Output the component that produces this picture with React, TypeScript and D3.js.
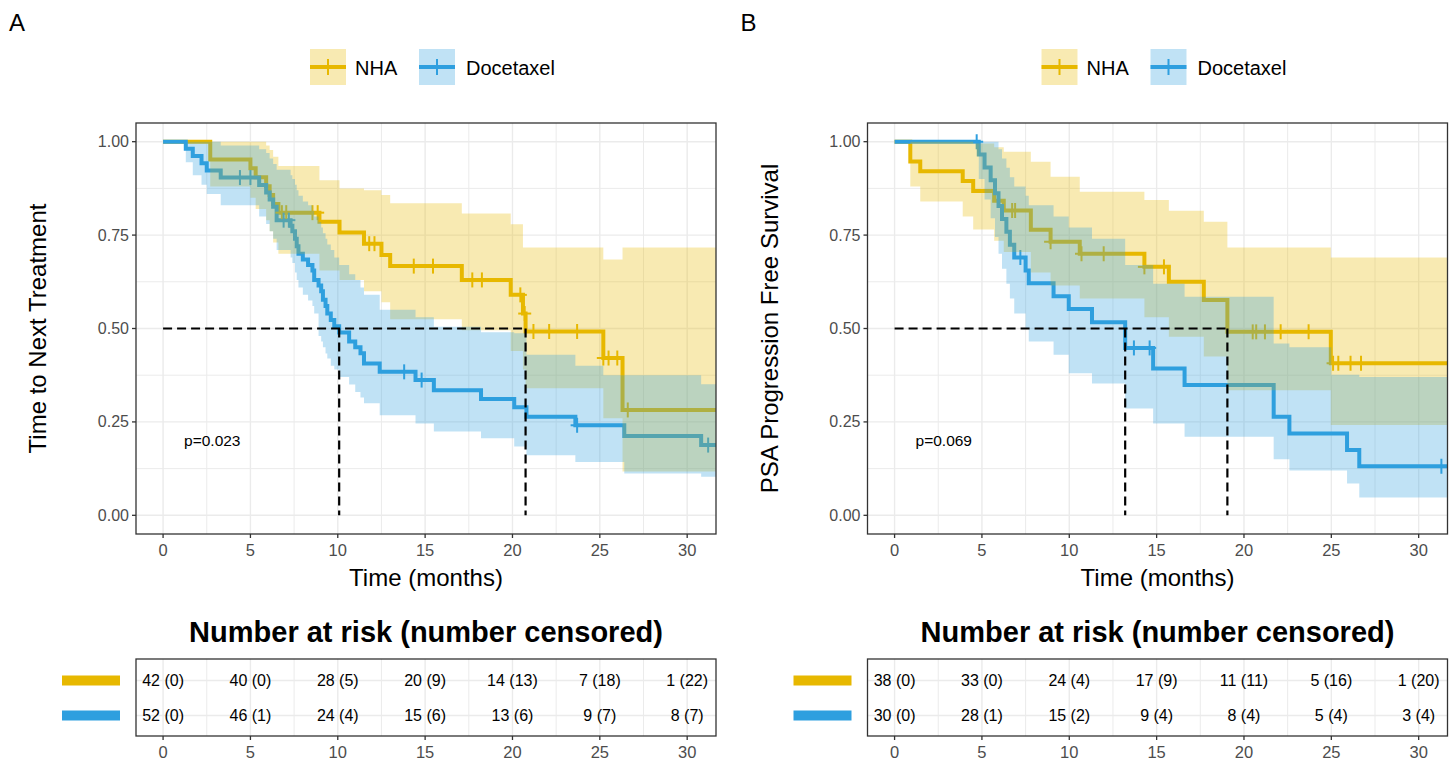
import React from 'react'
import * as d3 from 'd3'

const groups = ['NHA', 'Docetaxel']
const groupColors = ['#E7B800', '#2E9FDF']
const xTicks = [0, 5, 10, 15, 20, 25, 30]
const yTicks = [0, 0.25, 0.5, 0.75, 1]
const riskTimes = [0, 5, 10, 15, 20, 25, 30]

// Panel A, NHA
const aNhaTime = [0, 2.7, 5.0, 5.3, 5.9, 6.1, 6.3, 6.6, 8.95, 10.1, 11.5, 12.5, 13.0, 17.1, 19.9, 20.6, 20.75, 25.2, 26.3]
const aNhaSurv = [1, 0.952, 0.929, 0.905, 0.881, 0.857, 0.833, 0.81, 0.786, 0.757, 0.727, 0.697, 0.667, 0.63, 0.59, 0.54, 0.492, 0.421, 0.282]
const aNhaLower = [1, 0.88, 0.85, 0.82, 0.79, 0.76, 0.73, 0.7, 0.655, 0.63, 0.6, 0.57, 0.525, 0.495, 0.44, 0.39, 0.34, 0.26, 0.117]
const aNhaUpper = [1, 1, 1, 1, 0.99, 0.978, 0.96, 0.935, 0.897, 0.875, 0.87, 0.857, 0.835, 0.808, 0.779, 0.717, 0.717, 0.685, 0.717]
const aNhaCensor = [6.8, 7.05, 8.55, 8.85, 11.8, 12.1, 14.35, 15.45, 17.7, 18.25, 20.45, 20.7, 21.2, 22.1, 23.7, 25.2, 25.5, 26.0, 26.6]

// Panel A, Docetaxel
const aDocTime = [0, 1.3, 1.7, 2.2, 2.5, 3.3, 5.5, 5.9, 6.1, 6.3, 6.5, 7.3, 7.4, 7.55, 7.65, 7.75, 8.0, 8.3, 8.55, 8.65, 8.9, 9.05, 9.15, 9.3, 9.4, 9.6, 9.8, 10.08, 10.65, 11.0, 11.3, 11.5, 12.4, 14.45, 15.5, 18.2, 20.1, 20.8, 23.6, 25.2, 26.4, 30.8]
const aDocSurv = [1, 0.981, 0.962, 0.942, 0.923, 0.904, 0.884, 0.864, 0.845, 0.826, 0.79, 0.775, 0.76, 0.74, 0.72, 0.7, 0.685, 0.67, 0.655, 0.63, 0.615, 0.6, 0.577, 0.56, 0.54, 0.523, 0.506, 0.489, 0.465, 0.45, 0.434, 0.406, 0.384, 0.362, 0.335, 0.311, 0.289, 0.264, 0.241, 0.241, 0.212, 0.188]
const aDocLower = [1, 0.945, 0.91, 0.885, 0.86, 0.83, 0.8, 0.78, 0.76, 0.74, 0.71, 0.69, 0.675, 0.65, 0.63, 0.61, 0.59, 0.575, 0.56, 0.54, 0.48, 0.465, 0.45, 0.433, 0.42, 0.4, 0.39, 0.37, 0.35, 0.33, 0.315, 0.3, 0.268, 0.246, 0.224, 0.206, 0.184, 0.161, 0.143, 0.143, 0.112, 0.103]
const aDocUpper = [1, 1, 1, 1, 1, 0.99, 0.98, 0.97, 0.955, 0.94, 0.925, 0.91, 0.9, 0.885, 0.87, 0.855, 0.84, 0.83, 0.815, 0.8, 0.785, 0.77, 0.755, 0.74, 0.725, 0.71, 0.69, 0.67, 0.645, 0.63, 0.61, 0.59, 0.55, 0.53, 0.505, 0.49, 0.487, 0.43, 0.4, 0.375, 0.375, 0.351]
const aDocCensor = [4.4, 5.0, 6.9, 7.2, 13.8, 14.8, 23.7, 31.2]

// Panel B, NHA
const bNhaTime = [0, 0.9, 1.47, 3.9, 4.5, 5.7, 6.25, 7.8, 8.93, 10.6, 14.3, 15.7, 17.7, 19.05, 24.97]
const bNhaSurv = [1, 0.947, 0.921, 0.895, 0.868, 0.842, 0.816, 0.764, 0.732, 0.7, 0.665, 0.625, 0.576, 0.491, 0.407]
const bNhaLower = [1, 0.88, 0.84, 0.8, 0.765, 0.735, 0.705, 0.65, 0.615, 0.58, 0.53, 0.478, 0.425, 0.335, 0.242]
const bNhaUpper = [1, 1, 1, 1, 0.995, 0.985, 0.973, 0.946, 0.906, 0.866, 0.844, 0.815, 0.786, 0.717, 0.69]
const bNhaCensor = [6.73, 6.9, 8.93, 10.7, 11.97, 14.3, 15.42, 20.5, 20.7, 21.2, 22.1, 23.7, 25.1, 25.4, 26.1, 26.7]

// Panel B, Docetaxel
const bDocTime = [0, 4.82, 5.15, 5.5, 5.75, 5.95, 6.15, 6.4, 6.6, 6.85, 7.5, 7.68, 9.1, 9.97, 11.3, 13.2, 14.8, 16.6, 21.7, 22.6, 25.0, 25.9, 26.6]
const bDocSurv = [1, 0.966, 0.931, 0.897, 0.862, 0.828, 0.793, 0.759, 0.724, 0.69, 0.655, 0.621, 0.586, 0.552, 0.517, 0.448, 0.393, 0.349, 0.264, 0.219, 0.219, 0.175, 0.131]
const bDocLower = [1, 0.9, 0.845, 0.795, 0.745, 0.7, 0.66, 0.62, 0.58, 0.54, 0.5, 0.465, 0.43, 0.38, 0.353, 0.286, 0.246, 0.21, 0.15, 0.12, 0.12, 0.085, 0.048]
const bDocUpper = [1, 1, 1, 1, 1, 0.98, 0.955, 0.93, 0.905, 0.88, 0.855, 0.83, 0.8, 0.77, 0.74, 0.67, 0.62, 0.585, 0.46, 0.45, 0.376, 0.376, 0.37]
const bDocCensor = [4.7, 7.2, 13.7, 14.6, 31.3]

// number at risk / number censored
const aNhaRisk = [42, 40, 28, 20, 14, 7, 1]
const aNhaCens = [0, 0, 5, 9, 13, 18, 22]
const aDocRisk = [52, 46, 24, 15, 13, 9, 8]
const aDocCens = [0, 1, 4, 6, 6, 7, 7]
const bNhaRisk = [38, 33, 24, 17, 11, 5, 1]
const bNhaCens = [0, 0, 4, 9, 11, 16, 20]
const bDocRisk = [30, 28, 15, 9, 8, 5, 3]
const bDocCens = [0, 1, 2, 4, 4, 4, 4]

interface Curve {
  time: number[]
  surv: number[]
  lower: number[]
  upper: number[]
  censor: number[]
}

interface Pt {
  t: number
  s: number
  lo: number
  hi: number
}

const FONT = "'Liberation Sans', Arial, Helvetica, sans-serif"
const plotLeft = 136
const plotRight = 716
const plotTop = 123
const plotBottom = 534
const tableTop = 659
const tableBottom = 736
const tMin = -1.55
const tMax = 31.65

const survAt = (c: Curve, t: number) => c.surv[Math.max(0, d3.bisectRight(c.time, t) - 1)]

interface PanelProps {
  dx: number
  label: string
  yTitle: string
  pval: string
  curves: Curve[]
  risk: number[][]
  cens: number[][]
}

const Panel: React.FC<PanelProps> = ({ dx, label, yTitle, pval, curves, risk, cens }) => {
  const x = d3.scaleLinear().domain([tMin, tMax]).range([plotLeft + dx, plotRight + dx])
  const y = d3.scaleLinear().domain([-0.05, 1.05]).range([plotBottom, plotTop])
  const row = d3.scalePoint<string>().domain(groups).range([680.5, 715.5])
  const xMinor = d3.range(2.5, 30, 5)
  const yMinor = [0.125, 0.375, 0.625, 0.875]
  const clipId = `clip-${label}`
  const cx = (plotLeft + plotRight) / 2 + dx

  const line = d3.line<Pt>().x(d => x(d.t)).y(d => y(d.s)).curve(d3.curveStepAfter)
  const area = d3.area<Pt>().x(d => x(d.t)).y0(d => y(d.lo)).y1(d => y(d.hi)).curve(d3.curveStepAfter)

  const pts = curves.map(c => {
    const p: Pt[] = c.time.map((t, i) => ({ t, s: c.surv[i], lo: c.lower[i], hi: c.upper[i] }))
    const last = p[p.length - 1]
    p.push({ ...last, t: tMax + 1 })
    return p
  })

  const medians = curves.map(c => c.time[c.surv.findIndex(s => s <= 0.5)])
  const medMax = d3.max(medians) as number

  return (
    <g fontFamily={FONT}>
      <text x={9 + dx} y={31} fontSize={24}>{label}</text>

      {/* legend */}
      {groups.map((g, i) => {
        const kx = [310, 419][i] + dx
        const tx = [355, 466][i] + dx
        return (
          <g key={g}>
            <rect x={kx} y={49} width={36} height={36} fill={groupColors[i]} fillOpacity={0.3} />
            <line x1={kx} x2={kx + 36} y1={67} y2={67} stroke={groupColors[i]} strokeWidth={4} />
            <line x1={kx + 18} x2={kx + 18} y1={59} y2={75} stroke={groupColors[i]} strokeWidth={2} />
            <text x={tx} y={68} fontSize={20} dominantBaseline="central">{g}</text>
          </g>
        )
      })}

      {/* grid */}
      <rect x={plotLeft + dx} y={plotTop} width={plotRight - plotLeft} height={plotBottom - plotTop} fill="white" />
      {xMinor.map(t => (
        <line key={`xm${t}`} x1={x(t)} x2={x(t)} y1={plotTop} y2={plotBottom} stroke="#EBEBEB" strokeWidth={1} />
      ))}
      {yMinor.map(v => (
        <line key={`ym${v}`} x1={plotLeft + dx} x2={plotRight + dx} y1={y(v)} y2={y(v)} stroke="#EBEBEB" strokeWidth={1} />
      ))}
      {xTicks.map(t => (
        <line key={`xg${t}`} x1={x(t)} x2={x(t)} y1={plotTop} y2={plotBottom} stroke="#EBEBEB" strokeWidth={1.4} />
      ))}
      {yTicks.map(v => (
        <line key={`yg${v}`} x1={plotLeft + dx} x2={plotRight + dx} y1={y(v)} y2={y(v)} stroke="#EBEBEB" strokeWidth={1.4} />
      ))}

      <clipPath id={clipId}>
        <rect x={plotLeft + dx} y={plotTop} width={plotRight - plotLeft} height={plotBottom - plotTop} />
      </clipPath>
      <g clipPath={`url(#${clipId})`}>
        {pts.map((p, i) => (
          <path key={`l${i}`} d={line(p) as string} fill="none" stroke={groupColors[i]} strokeWidth={4} />
        ))}
        {curves.map((c, i) =>
          c.censor.map((t, j) => (
            <g key={`c${i}-${j}`} stroke={groupColors[i]} strokeWidth={2}>
              <line x1={x(t)} x2={x(t)} y1={y(survAt(c, t)) - 7.5} y2={y(survAt(c, t)) + 7.5} />
              <line x1={x(t) - 6.5} x2={x(t) + 6.5} y1={y(survAt(c, t))} y2={y(survAt(c, t))} />
            </g>
          ))
        )}
        {pts.map((p, i) => (
          <path key={`a${i}`} d={area(p) as string} fill={groupColors[i]} fillOpacity={0.3} stroke="none" />
        ))}
        <line x1={x(0)} x2={x(medMax)} y1={y(0.5)} y2={y(0.5)} stroke="black" strokeWidth={2.2} strokeDasharray="9,5" />
        {medians.map((m, i) => (
          <line key={`m${i}`} x1={x(m)} x2={x(m)} y1={y(0.5)} y2={y(0)} stroke="black" strokeWidth={2.2} strokeDasharray="9,5" />
        ))}
      </g>
      <text x={x(1.2)} y={y(0.2)} fontSize={15.5} dominantBaseline="central">{pval}</text>
      <rect x={plotLeft + dx} y={plotTop} width={plotRight - plotLeft} height={plotBottom - plotTop} fill="none" stroke="#333333" strokeWidth={1.3} />

      {/* axes */}
      {yTicks.map(v => (
        <g key={`yt${v}`}>
          <line x1={plotLeft + dx - 4} x2={plotLeft + dx} y1={y(v)} y2={y(v)} stroke="#333333" strokeWidth={1.3} />
          <text x={plotLeft + dx - 7} y={y(v)} fontSize={16} fill="#4D4D4D" textAnchor="end" dominantBaseline="central">
            {d3.format('.2f')(v)}
          </text>
        </g>
      ))}
      {xTicks.map(t => (
        <g key={`xt${t}`}>
          <line x1={x(t)} x2={x(t)} y1={plotBottom} y2={plotBottom + 4} stroke="#333333" strokeWidth={1.3} />
          <text x={x(t)} y={556} fontSize={16.5} fill="#4D4D4D" textAnchor="middle">{t}</text>
        </g>
      ))}
      <text x={cx} y={586} fontSize={24} textAnchor="middle">Time (months)</text>
      <text transform={`translate(${46 + dx},${(plotTop + plotBottom) / 2}) rotate(-90)`} fontSize={24} textAnchor="middle">
        {yTitle}
      </text>

      {/* risk table */}
      <text x={cx} y={642} fontSize={29} fontWeight="bold" textAnchor="middle">Number at risk (number censored)</text>
      <rect x={plotLeft + dx} y={tableTop} width={plotRight - plotLeft} height={tableBottom - tableTop} fill="white" />
      {xMinor.map(t => (
        <line key={`txm${t}`} x1={x(t)} x2={x(t)} y1={tableTop} y2={tableBottom} stroke="#EBEBEB" strokeWidth={1} />
      ))}
      {xTicks.map(t => (
        <line key={`txg${t}`} x1={x(t)} x2={x(t)} y1={tableTop} y2={tableBottom} stroke="#EBEBEB" strokeWidth={1.4} />
      ))}
      {groups.map(g => (
        <line key={`tyg${g}`} x1={plotLeft + dx} x2={plotRight + dx} y1={row(g)} y2={row(g)} stroke="#EBEBEB" strokeWidth={1.4} />
      ))}
      {groups.map((g, i) => (
        <g key={`tr${g}`}>
          <rect x={62 + dx} y={(row(g) as number) - 5} width={58} height={10} fill={groupColors[i]} />
          {riskTimes.map((t, j) => (
            <text key={t} x={x(t)} y={row(g)} fontSize={16} textAnchor="middle" dominantBaseline="central">
              {`${risk[i][j]} (${cens[i][j]})`}
            </text>
          ))}
        </g>
      ))}
      <rect x={plotLeft + dx} y={tableTop} width={plotRight - plotLeft} height={tableBottom - tableTop} fill="none" stroke="#333333" strokeWidth={1.3} />
      {xTicks.map(t => (
        <g key={`tt${t}`}>
          <line x1={x(t)} x2={x(t)} y1={tableBottom} y2={tableBottom + 4} stroke="#333333" strokeWidth={1.3} />
          <text x={x(t)} y={758} fontSize={16.5} fill="#4D4D4D" textAnchor="middle">{t}</text>
        </g>
      ))}
    </g>
  )
}

const App: React.FC = () => {
  const curvesA: Curve[] = [
    { time: aNhaTime, surv: aNhaSurv, lower: aNhaLower, upper: aNhaUpper, censor: aNhaCensor },
    { time: aDocTime, surv: aDocSurv, lower: aDocLower, upper: aDocUpper, censor: aDocCensor },
  ]
  const curvesB: Curve[] = [
    { time: bNhaTime, surv: bNhaSurv, lower: bNhaLower, upper: bNhaUpper, censor: bNhaCensor },
    { time: bDocTime, surv: bDocSurv, lower: bDocLower, upper: bDocUpper, censor: bDocCensor },
  ]
  return (
    <svg width={1455} height={765} style={{ position: 'absolute', left: 0, top: 0, background: 'white' }}>
      <Panel dx={0} label="A" yTitle="Time to Next Treatment" pval="p=0.023" curves={curvesA}
        risk={[aNhaRisk, aDocRisk]} cens={[aNhaCens, aDocCens]} />
      <Panel dx={731.5} label="B" yTitle="PSA Progression Free Survival" pval="p=0.069" curves={curvesB}
        risk={[bNhaRisk, bDocRisk]} cens={[bNhaCens, bDocCens]} />
    </svg>
  )
}

export default App
